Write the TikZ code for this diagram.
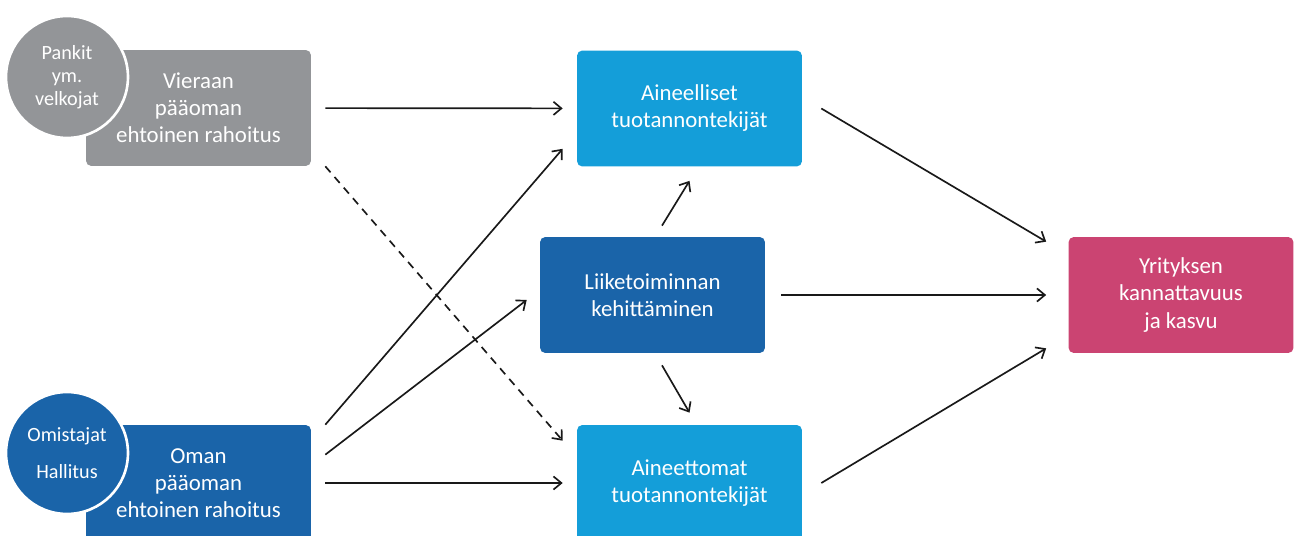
\documentclass[tikz,border=0pt]{standalone}
\usepackage{fontspec}
\setmainfont{Carlito}
\usetikzlibrary{positioning,arrows.meta}
\definecolor{fingrey}{HTML}{939598}
\definecolor{darkblue}{HTML}{1A64A9}
\definecolor{lightblue}{HTML}{149ED9}
\definecolor{resultpink}{HTML}{CB4472}

\begin{document}
\begin{tikzpicture}[
  x=0.02cm, y=-0.02cm,
  box/.style={rectangle, rounded corners=3pt, inner sep=0pt,
    minimum width=4.5cm, minimum height=2.32cm,
    align=center, text=white, font=\fontsize{13}{15.4}\selectfont},
  party/.style={circle, draw=white, line width=1.5pt, inner sep=0pt,
    minimum size=2.44cm, align=center, text=white,
    font=\fontsize{11.5}{13}\selectfont},
  arr/.style={-{Straight Barb[length=4.5pt,width=7.5pt]}, line width=0.95pt,
    draw={black!90}}
]
\clip (0,0) rectangle (1294,536);
% financing sources
\node[box, fill=fingrey]  (debt) at (198.5,108) {Vieraan\\pääoman\\ehtoinen rahoitus};
\node[box, fill=darkblue] (equity) at (198.5,483) {Oman\\pääoman\\ehtoinen rahoitus};
\node[party, fill=fingrey]  (banks) at (67,77) {Pankit\\ym.\\velkojat};
\node[party, fill=darkblue] (owners) at (67,453) {Omistajat\\[8pt]Hallitus};
% factors of production
\node[box, fill=lightblue] (tangible) at (689.5,108.5) {Aineelliset\\tuotannontekijät};
\node[box, fill=darkblue]  (develop) at (652.5,295) {Liiketoiminnan\\kehittäminen};
\node[box, fill=lightblue] (intangible) at (689.5,483) {Aineettomat\\tuotannontekijät};
% result
\node[box, fill=resultpink] (result) at (1181,295) {Yrityksen\\kannattavuus\\ja kasvu};

\draw[arr, shorten <=0.28cm, shorten >=0.28cm] (debt) -- (tangible);
\draw[arr, dash pattern=on 4.5pt off 3.5pt] ([xshift=0.28cm]debt.south east) -- ([xshift=-0.28cm,yshift=-0.32cm]intangible.north west);
\draw[arr] ([xshift=0.28cm]equity.north east) -- ([xshift=-0.28cm,yshift=0.36cm]tangible.south west);
\draw[arr] ([xshift=0.28cm,yshift=-0.6cm]equity.north east) -- ([xshift=-0.26cm,yshift=-0.1cm]develop.west);
\draw[arr, shorten <=0.28cm, shorten >=0.28cm] (equity) -- (intangible);
\draw[arr] ([xshift=0.19cm,yshift=0.22cm]develop.north) -- ([yshift=-0.28cm]tangible.south);
\draw[arr] ([xshift=0.19cm,yshift=-0.24cm]develop.south) -- ([yshift=0.24cm]intangible.north);
\draw[arr] ([xshift=0.38cm]tangible.east) -- ([xshift=-0.44cm,yshift=-0.1cm]result.north west);
\draw[arr, shorten <=0.32cm, shorten >=0.44cm] (develop) -- (result);
\draw[arr] ([xshift=0.38cm]intangible.east) -- ([xshift=-0.44cm,yshift=0.1cm]result.south west);
\end{tikzpicture}
\end{document}
